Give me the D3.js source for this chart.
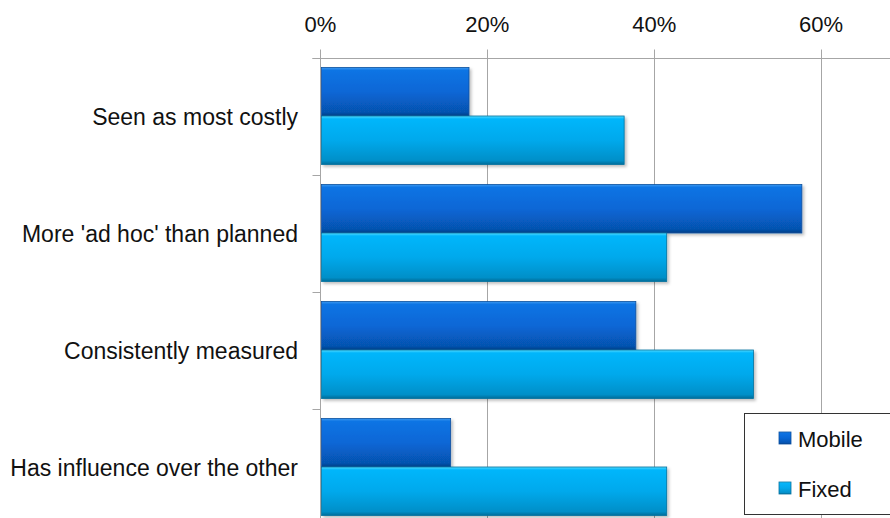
<!DOCTYPE html>
<meta charset="utf-8">
<style>
  body { margin: 0; background: #fff; }
  svg { display: block; font-family: "Liberation Sans", Arial, sans-serif; }
  .grid { stroke: #a6a6a6; stroke-width: 1; }
  .catlabel { font-size: 23px; fill: #111; }
  .ticklabel { font-size: 22px; fill: #111; }
</style>
<body>
<div id="chart"></div>
<script src="https://d3js.org/d3.v7.min.js"></script>
<script>
  var categories = ["Seen as most costly", "More 'ad hoc' than planned", "Consistently measured", "Has influence over the other"];
  var mobile = [0.178, 0.577, 0.378, 0.156];
  var fixed = [0.364, 0.415, 0.519, 0.415];
  var seriesNames = ["Mobile", "Fixed"];
  var tickValues = [0, 0.2, 0.4, 0.6];

  var width = 890, height = 518;
  var marginLeft = 320.5, marginTop = 58.5;

  var x = d3.scaleLinear().domain([0, 0.8]).range([marginLeft, marginLeft + 0.8 * 834.2]);
  var y = d3.scaleBand().domain(categories).range([marginTop, marginTop + 4 * 117]);
  var sub = d3.scaleBand().domain(seriesNames).range([9, 106]);

  var svg = d3.select("#chart").append("svg")
          .attr("width", width)
          .attr("height", height);

  var defs = svg.append("defs");
  var grads = {
    Mobile: [["0%", "#3c9af0"], ["6%", "#0f74e4"], ["50%", "#0867d6"], ["92%", "#0653b0"], ["100%", "#063f86"]],
    Fixed: [["0%", "#4fdcff"], ["6%", "#06b6fb"], ["50%", "#04a9ec"], ["92%", "#058fc8"], ["100%", "#066c98"]]
  };
  seriesNames.forEach(function (s) {
    var g = defs.append("linearGradient").attr("id", "g" + s)
            .attr("x1", 0).attr("y1", 0).attr("x2", 0).attr("y2", 1);
    grads[s].forEach(function (st) {
      g.append("stop").attr("offset", st[0]).attr("stop-color", st[1]);
    });
  });
  var f = defs.append("filter").attr("id", "shadow")
          .attr("x", "-5%").attr("y", "-10%").attr("width", "115%").attr("height", "130%");
  f.append("feDropShadow").attr("dx", 2).attr("dy", 2).attr("stdDeviation", 1.5)
          .attr("flood-color", "#000").attr("flood-opacity", 0.25);

  // vertical grid lines (with tick above axis)
  svg.selectAll("line.vgrid").data(tickValues.slice(1)).enter()
          .append("line").attr("class", "grid")
          .attr("x1", function (d) { return Math.round(x(d)) + 0.5; })
          .attr("x2", function (d) { return Math.round(x(d)) + 0.5; })
          .attr("y1", marginTop - 9).attr("y2", height);

  // top axis line
  svg.append("line").attr("class", "grid")
          .attr("x1", marginLeft - 8).attr("x2", width)
          .attr("y1", marginTop).attr("y2", marginTop);
  // left axis line
  svg.append("line").attr("class", "grid")
          .attr("x1", marginLeft).attr("x2", marginLeft)
          .attr("y1", marginTop - 9).attr("y2", height);
  // category ticks
  svg.selectAll("line.ytick").data(d3.range(5)).enter()
          .append("line").attr("class", "grid")
          .attr("x1", marginLeft - 8).attr("x2", marginLeft)
          .attr("y1", function (i) { return marginTop + i * y.step(); })
          .attr("y2", function (i) { return marginTop + i * y.step(); });

  svg.selectAll("text.ticklabel").data(tickValues).enter()
          .append("text").attr("class", "ticklabel")
          .attr("x", function (d) { return x(d); })
          .attr("y", 32)
          .attr("text-anchor", "middle")
          .text(d3.format(".0%"));

  svg.selectAll("text.catlabel").data(categories).enter()
          .append("text").attr("class", "catlabel")
          .attr("x", 298)
          .attr("y", function (d) { return y(d) + y.bandwidth() / 2 + 8; })
          .attr("text-anchor", "end")
          .text(function (d) { return d; });

  var bars = [];
  categories.forEach(function (c, i) {
    bars.push({ cat: c, s: "Mobile", v: mobile[i] });
    bars.push({ cat: c, s: "Fixed", v: fixed[i] });
  });

  svg.selectAll("rect.bar").data(bars).enter()
          .append("rect").attr("class", "bar")
          .attr("x", x(0) + 1)
          .attr("y", function (d) { return y(d.cat) + sub(d.s); })
          .attr("width", function (d) { return x(d.v) - x(0) - 1; })
          .attr("height", sub.bandwidth())
          .attr("fill", function (d) { return "url(#g" + d.s + ")"; })
          .attr("stroke", function (d) { return d.s === "Mobile" ? "#0a4f9e" : "#07729f"; })
          .attr("stroke-width", 0.8)
          .attr("filter", "url(#shadow)");

  // legend
  var lg = svg.append("g");
  lg.append("rect").attr("x", 744.5).attr("y", 413.5).attr("width", 160).attr("height", 101)
          .attr("fill", "#fff").attr("stroke", "#333").attr("stroke-width", 1);
  seriesNames.forEach(function (s, i) {
    var yy = 432 + i * 50;
    lg.append("rect").attr("x", 779).attr("y", yy).attr("width", 12).attr("height", 12)
            .attr("fill", "url(#g" + s + ")")
            .attr("stroke", s === "Mobile" ? "#0a4f9e" : "#07729f").attr("stroke-width", 0.8);
    lg.append("text").attr("x", 798).attr("y", yy + 15)
            .style("font-size", "22px").attr("fill", "#111").text(s);
  });
</script>
</body>
